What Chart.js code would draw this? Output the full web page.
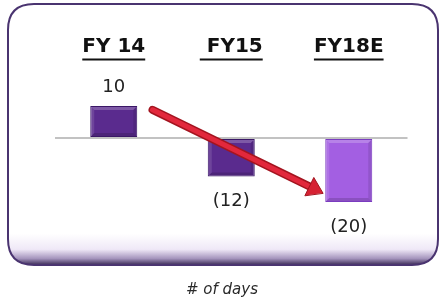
<!DOCTYPE html>
<html>
<head>
<meta charset="utf-8">
<script src="https://cdn.jsdelivr.net/npm/chart.js@4.4.1/dist/chart.umd.min.js"></script>
<style>
html,body{margin:0;padding:0;background:#fff;}
#wrap{width:441px;height:302px;position:relative;}
</style>
</head>
<body>
<div id="wrap"><canvas id="c" width="441" height="302"></canvas></div>
<script>
// ---- data ----
const categories = ["FY 14", " FY15", "FY18E"];
const values = [10, -12, -20];
const barColors = ["#5a2b8e", "#5a2b8e", "#a35fe2"];
const barBorders = ["#3a1766", "#3a1766", "#7a3cbf"];
const unitLabel = "# of days";
// arrow annotation in data coordinates (category index, value)
const arrowFrom = [0.33, 8.8];
const arrowTo = [1.78, -17.2];

function fmt(v){ return v < 0 ? "(" + (-v) + ")" : String(v); }

const FONT = "'DejaVu Sans', 'Liberation Sans', Arial, sans-serif";

const framePlugin = {
  id: "frame",
  beforeDraw(chart){
    const ctx = chart.ctx;
    const x = 8, y = 4, w = 430, h = 261, r = 26;
    ctx.save();
    ctx.beginPath();
    ctx.moveTo(x + r, y);
    ctx.lineTo(x + w - r, y);
    ctx.quadraticCurveTo(x + w, y, x + w, y + r);
    ctx.lineTo(x + w, y + h - r);
    ctx.quadraticCurveTo(x + w, y + h, x + w - r, y + h);
    ctx.lineTo(x + r, y + h);
    ctx.quadraticCurveTo(x, y + h, x, y + h - r);
    ctx.lineTo(x, y + r);
    ctx.quadraticCurveTo(x, y, x + r, y);
    ctx.closePath();
    const g = ctx.createLinearGradient(0, y, 0, y + h);
    g.addColorStop(0, "#ffffff");
    g.addColorStop(0.88, "#ffffff");
    g.addColorStop(0.94, "#efe8f7");
    g.addColorStop(0.975, "#a595bd");
    g.addColorStop(1, "#3a2a55");
    ctx.fillStyle = g;
    ctx.fill();
    ctx.lineWidth = 2;
    ctx.strokeStyle = "#4a3470";
    ctx.stroke();
    ctx.restore();
  }
};

const extrasPlugin = {
  id: "extras",
  afterDatasetsDraw(chart){
    // bevel highlight on bars
    const ctx = chart.ctx;
    const meta = chart.getDatasetMeta(0);
    ctx.save();
    meta.data.forEach((bar) => {
      const left = bar.x - bar.width / 2, right = bar.x + bar.width / 2;
      const top = Math.min(bar.y, bar.base), bottom = Math.max(bar.y, bar.base);
      const b = 3;
      ctx.fillStyle = "rgba(255,255,255,0.22)";
      ctx.beginPath();
      ctx.moveTo(left + 1, top + 1); ctx.lineTo(right - 1, top + 1);
      ctx.lineTo(right - 1 - b, top + 1 + b); ctx.lineTo(left + 1 + b, top + 1 + b);
      ctx.closePath(); ctx.fill();
      ctx.fillStyle = "rgba(255,255,255,0.12)";
      ctx.beginPath();
      ctx.moveTo(left + 1, top + 1); ctx.lineTo(left + 1 + b, top + 1 + b);
      ctx.lineTo(left + 1 + b, bottom - 1 - b); ctx.lineTo(left + 1, bottom - 1);
      ctx.closePath(); ctx.fill();
      ctx.fillStyle = "rgba(0,0,0,0.15)";
      ctx.beginPath();
      ctx.moveTo(left + 1, bottom - 1); ctx.lineTo(right - 1, bottom - 1);
      ctx.lineTo(right - 1 - b, bottom - 1 - b); ctx.lineTo(left + 1 + b, bottom - 1 - b);
      ctx.closePath(); ctx.fill();
      ctx.fillStyle = "rgba(0,0,0,0.1)";
      ctx.beginPath();
      ctx.moveTo(right - 1, top + 1); ctx.lineTo(right - 1, bottom - 1);
      ctx.lineTo(right - 1 - b, bottom - 1 - b); ctx.lineTo(right - 1 - b, top + 1 + b);
      ctx.closePath(); ctx.fill();
    });
    ctx.restore();
  },
  afterDraw(chart){
    const ctx = chart.ctx;
    const xs = chart.scales.x, ys = chart.scales.y;
    ctx.save();
    // underline category labels
    ctx.font = "bold 20px " + FONT;
    ctx.strokeStyle = "#111";
    ctx.lineWidth = 2;
    categories.forEach((c, i) => {
      const cx = xs.getPixelForTick(i);
      const w = ctx.measureText(c).width;
      const uy = xs.bottom - 14.5;
      ctx.beginPath();
      ctx.moveTo(cx - w / 2, uy);
      ctx.lineTo(cx + w / 2, uy);
      ctx.stroke();
    });
    // value labels
    ctx.font = "18px " + FONT;
    ctx.fillStyle = "#222";
    ctx.textAlign = "center";
    ctx.textBaseline = "middle";
    const meta = chart.getDatasetMeta(0);
    meta.data.forEach((bar, i) => {
      const v = values[i];
      const y = v >= 0 ? bar.y - 19 : bar.y + 25;
      ctx.fillText(fmt(v), bar.x, y);
    });
    // unit label
    ctx.font = "oblique 15px " + FONT;
    ctx.fillStyle = "#2a2a2a";
    ctx.fillText(unitLabel, chart.width / 2 + 1.5, 290);
    // arrow
    const x1 = xs.getPixelForValue(arrowFrom[0]), y1 = ys.getPixelForValue(arrowFrom[1]);
    const x2 = xs.getPixelForValue(arrowTo[0]), y2 = ys.getPixelForValue(arrowTo[1]);
    const ang = Math.atan2(y2 - y1, x2 - x1);
    const head = 15, hw = 10;
    const bx = x2 - head * Math.cos(ang), by = y2 - head * Math.sin(ang);
    ctx.lineCap = "round";
    ctx.strokeStyle = "#a3141f";
    ctx.lineWidth = 8;
    ctx.beginPath(); ctx.moveTo(x1, y1); ctx.lineTo(bx, by); ctx.stroke();
    ctx.strokeStyle = "#e2283c";
    ctx.lineWidth = 5;
    ctx.beginPath(); ctx.moveTo(x1, y1); ctx.lineTo(bx, by); ctx.stroke();
    ctx.fillStyle = "#d62233";
    ctx.strokeStyle = "#a3141f";
    ctx.lineWidth = 1;
    ctx.beginPath();
    ctx.moveTo(x2, y2);
    ctx.lineTo(bx + hw * Math.sin(ang), by - hw * Math.cos(ang));
    ctx.lineTo(bx - hw * Math.sin(ang), by + hw * Math.cos(ang));
    ctx.closePath();
    ctx.fill(); ctx.stroke();
    ctx.restore();
  }
};

new Chart(document.getElementById("c"), {
  type: "bar",
  data: {
    labels: categories,
    datasets: [{
      data: values,
      backgroundColor: barColors,
      borderColor: barBorders,
      borderWidth: 1,
      borderSkipped: false,
      barPercentage: 0.4,
      categoryPercentage: 1.0
    }]
  },
  options: {
    responsive: false,
    animation: false,
    devicePixelRatio: 1,
    layout: { padding: { left: 55, right: 33.5, top: 20, bottom: 68 } },
    plugins: {
      legend: { display: false },
      tooltip: { enabled: false },
      title: { display: false }
    },
    scales: {
      x: {
        position: "top",
        grid: { display: false, drawTicks: false },
        border: { display: false },
        ticks: {
          color: "#111",
          padding: 15,
          font: { family: FONT, size: 20, weight: "bold" }
        }
      },
      y: {
        min: -30, max: 20,
        ticks: { display: false, stepSize: 10 },
        border: { display: false },
        grid: {
          drawTicks: false,
          color: (c) => c.tick && c.tick.value === 0 ? "#c2c2c2" : "rgba(0,0,0,0)",
          lineWidth: 2
        }
      }
    }
  },
  plugins: [framePlugin, extrasPlugin]
});
</script>
</body>
</html>
